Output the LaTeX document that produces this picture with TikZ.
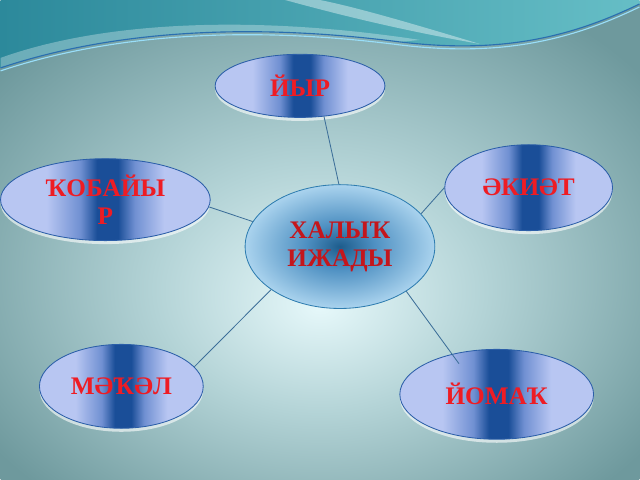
\documentclass[tikz,border=0pt]{standalone}
\usepackage{fontspec}
\setmainfont{Liberation Serif}
\usetikzlibrary{shapes.geometric,shadows}

\definecolor{bandlight}{HTML}{B8C6F2}
\definecolor{bandmid}{HTML}{7090D2}
\definecolor{banddark}{HTML}{1A4E98}
\definecolor{genreedge}{HTML}{2B5EA8}
\definecolor{genretext}{HTML}{EE1C24}
\definecolor{glowdark}{HTML}{1D5C8C}
\definecolor{glowmid}{HTML}{4E90C2}
\definecolor{glowlight}{HTML}{AAD3EE}
\definecolor{centreedge}{HTML}{2F7DB0}
\definecolor{centretext}{HTML}{C4161C}
\definecolor{linkblue}{HTML}{3D6F99}
\definecolor{bglight}{HTML}{E6F8FA}
\definecolor{bgmid}{HTML}{B3D3D6}
\definecolor{bgdark}{HTML}{6E999D}
\definecolor{wavedark}{HTML}{2C899B}
\definecolor{wavelight}{HTML}{66BEC6}
\definecolor{waveline}{HTML}{2A6FB0}

\pgfdeclarehorizontalshading{genreband}{100bp}{color(0bp)=(bandlight); color(36bp)=(bandlight);
  color(44bp)=(bandmid); color(48bp)=(banddark); color(53bp)=(banddark);
  color(57bp)=(bandmid); color(64bp)=(bandlight); color(100bp)=(bandlight)}
\pgfdeclareradialshading{halyqglow}{\pgfpoint{0bp}{0bp}}{color(0bp)=(glowdark);
  color(9bp)=(glowmid); color(25bp)=(glowlight); color(50bp)=(glowlight)}
\pgfdeclareradialshading{slideglow}{\pgfpoint{0bp}{-7bp}}{color(0bp)=(bglight);
  color(13bp)=(bgmid); color(32bp)=(bgdark); color(50bp)=(bgdark)}

\begin{document}
\begin{tikzpicture}[
  x=0.025cm, y=-0.025cm,
  genre/.style={
    ellipse, draw=genreedge, line width=0.6pt,
    shading=genreband, inner sep=0pt,
    font=\fontsize{18}{20}\selectfont\bfseries,
    text=genretext, align=center,
    drop shadow={shadow xshift=0pt, shadow yshift=-2.5pt, fill=white, opacity=.6}
  },
  centre/.style={
    ellipse, draw=centreedge, line width=0.6pt,
    shading=halyqglow, inner sep=0pt,
    font=\fontsize{18}{20}\selectfont\bfseries,
    text=centretext, align=center
  },
  link/.style={draw=linkblue, line width=0.6pt}
]

% =====================================================
% SLIDE BACKGROUND
% =====================================================

\shade[shading=slideglow] (0,0) rectangle (640,480);
\shade[left color=wavedark, right color=wavelight]
  (0,0) -- (0,68) .. controls (120,28) and (260,24) .. (400,42)
  .. controls (500,54) and (570,38) .. (640,4) -- (640,0) -- cycle;
\fill[white, opacity=.3]
  (0,58) .. controls (100,22) and (250,14) .. (420,40)
  -- (400,42) .. controls (260,24) and (120,28) .. (0,68) -- cycle;
\fill[white, opacity=.4]
  (285,0) .. controls (340,15) and (400,30) .. (480,44)
  .. controls (420,26) and (360,8) .. (320,0) -- cycle;
\draw[cyan!40, line width=0.8pt]
  (0,71) .. controls (120,31) and (260,27) .. (400,45)
  .. controls (500,57) and (570,41) .. (640,7);
\draw[waveline, line width=0.8pt]
  (0,68) .. controls (120,28) and (260,24) .. (400,42)
  .. controls (500,54) and (570,38) .. (640,4);

% =====================================================
% CENTRE
% =====================================================

\node[centre, minimum width=4.75cm, minimum height=3.1cm] (halyq) at (340,247)
{ХАЛЫҠ\\ИЖАДЫ};

% =====================================================
% GENRES
% =====================================================

\node[genre, minimum width=4.25cm, minimum height=1.58cm] (yir) at (300,86)
{ЙЫР};

\node[genre, minimum width=4.2cm, minimum height=2.15cm] (ekiet) at (529,188)
{ӘКИӘТ};

\node[genre, minimum width=5.25cm, minimum height=2.05cm] (qobayir) at (105,200)
{ҠОБАЙЫ\\Р};

\node[genre, minimum width=4.1cm, minimum height=2.1cm] (makal) at (121,387)
{МӘҠӘЛ};

\node[genre, minimum width=4.85cm, minimum height=2.25cm] (yomaq) at (497,395)
{ЙОМАҠ};

% =====================================================
% LINKS
% =====================================================

\draw[link] (halyq.91) -- (yir.-52);
\draw[link] (halyq.164) -- (qobayir.-4);
\draw[link] (halyq.22) -- (ekiet.180);
\draw[link, shorten >=-0.3cm] (halyq.-34) -- (yomaq.138);
\draw[link] (halyq.-148) -- (makal.15);

\end{tikzpicture}
\end{document}
